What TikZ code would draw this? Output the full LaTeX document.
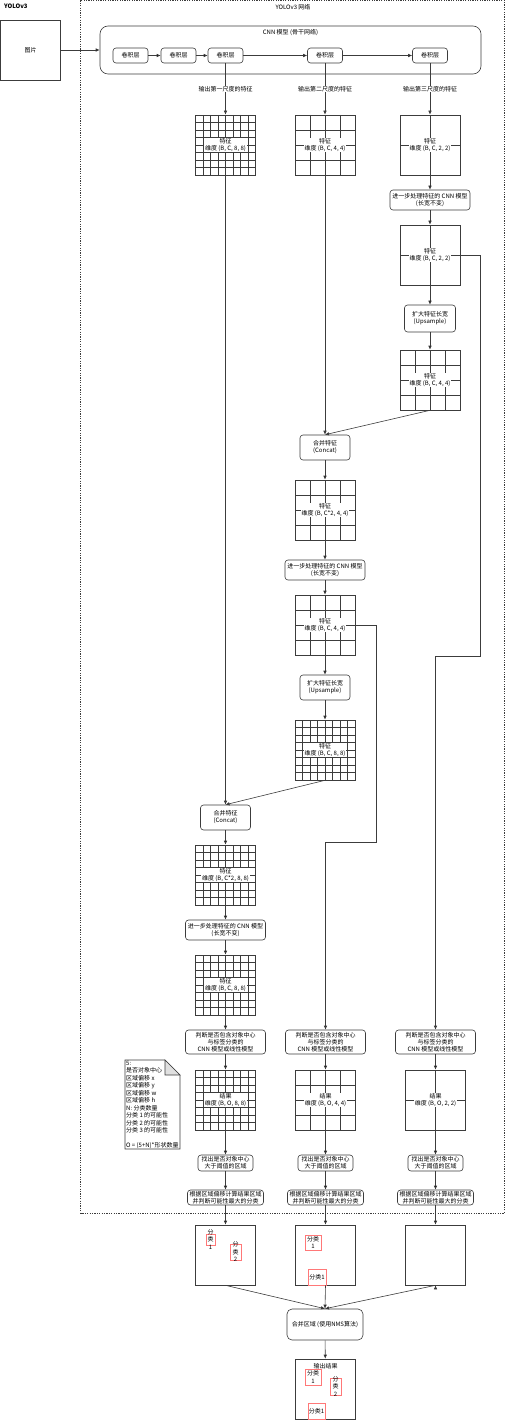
\documentclass[tikz,border=0pt]{standalone}
\usepackage{fontspec}
\setmainfont{Noto Sans CJK SC}
\usetikzlibrary{calc,arrows.meta}
\definecolor{linegray}{RGB}{60,60,60}
\definecolor{boxred}{RGB}{255,120,120}
\newcommand{\feat}[1]{特征\\维度 #1}
\newcommand{\res}[1]{结果\\维度 #1}
\tikzset{
	box/.style={draw=linegray, line width=0.6pt, rounded corners=3pt, fill=white, align=center, inner sep=1pt},
	plain/.style={draw=linegray, line width=0.6pt, minimum size=60pt, inner sep=0pt},
	featgrid/.style={plain, path picture={
		\foreach \k in {1,...,#1}{
			\draw[linegray, line width=0.5pt] ($(path picture bounding box.north west)!\k/#1!(path picture bounding box.north east)$) -- ($(path picture bounding box.south west)!\k/#1!(path picture bounding box.south east)$);
			\draw[linegray, line width=0.5pt] ($(path picture bounding box.north west)!\k/#1!(path picture bounding box.south west)$) -- ($(path picture bounding box.north east)!\k/#1!(path picture bounding box.south east)$);
		}}},
	tag/.style={fill=white, align=center, inner sep=0.6pt},
	redbox/.style={draw=boxred, line width=0.8pt, inner sep=0pt},
	redtext/.style={align=center, inner sep=0pt, font=\fontsize{6}{7.5}\selectfont},
	flow/.style={-{Latex[length=4pt,width=3.5pt]}, draw=linegray, line width=0.6pt},
	frame/.style={draw=linegray, line width=0.5pt, dash pattern=on 1.2pt off 1.2pt},
}
\begin{document}
\begin{tikzpicture}[x=1pt,y=-1pt,font=\fontsize{6}{7}\selectfont]
	\useasboundingbox (0,0) rectangle (506,1420);
	\node[anchor=west, font=\bfseries\fontsize{6}{7}\selectfont] (title) at (0.5,6) {YOLOv3};
	\node[plain] (img) at (30.5,50) {图片};
	\draw[frame] (80.5,0.5) rectangle (504.5,1213);
	\node (nettitle) at (293,7) {YOLOv3 网络};
	
	\node[box, rounded corners=8pt, minimum width=381pt, minimum height=48pt] (cnn) at (290.5,50) {};
	\node (cnntitle) at (290.5,33) {CNN 模型 (骨干网络)};
	\node[box, minimum width=35pt, minimum height=15pt] (c1) at (130.5,55.5) {卷积层};
	\node[box, minimum width=35pt, minimum height=15pt] (c2) at (178.5,55.5) {卷积层};
	\node[box, minimum width=35pt, minimum height=15pt] (c3) at (225.5,55.5) {卷积层};
	\node[box, minimum width=35pt, minimum height=15pt] (c4) at (325,55.5) {卷积层};
	\node[box, minimum width=35pt, minimum height=15pt] (c5) at (430,55.5) {卷积层};
	\path[flow] (img)edge(cnn)(c1)edge(c2)(c2)edge(c3)(c3)edge(c4)(c4)edge(c5);
	
	\node[featgrid=8] (g1) at (225.5,145) {};
	\node[tag] (g1t) at (g1) {\feat{(B, C, 8, 8)}};
	\node[featgrid=4] (g2) at (325,145) {};
	\node[tag] (g2t) at (g2) {\feat{(B, C, 4, 4)}};
	\node[featgrid=2] (g3) at (430,145) {};
	\node[tag] (g3t) at (g3) {\feat{(B, C, 2, 2)}};
	\draw[flow] (c3) -- node[tag]{输出第一尺度的特征} (g1);
	\draw[flow] (c4) -- node[tag]{输出第二尺度的特征} (g2);
	\draw[flow] (c5) -- node[tag]{输出第三尺度的特征} (g3);
	
	\node[box, minimum width=80pt, minimum height=20pt] (p3) at (430,200) {进一步处理特征的 CNN 模型\\(长宽不变)};
	\node[featgrid=2] (g3b) at (430,255) {};
	\node[tag] (g3bt) at (g3b) {\feat{(B, C, 2, 2)}};
	\node[box, minimum width=51pt, minimum height=27pt] (up3) at (430,318.5) {扩大特征长宽\\(Upsample)};
	\node[featgrid=4] (g4) at (430,380) {};
	\node[tag] (g4t) at (g4) {\feat{(B, C, 4, 4)}};
	\path[flow] (g3)edge(p3)(p3)edge(g3b)(g3b)edge(up3)(up3)edge(g4);
	
	\node[box, minimum width=50pt, minimum height=25pt] (cat1) at (325,447.5) {合并特征\\(Concat)};
	\node[featgrid=4] (g5) at (325,510) {};
	\node[tag] (g5t) at (g5) {\feat{(B, C*2, 4, 4)}};
	\node[box, minimum width=80pt, minimum height=20pt] (p2) at (325,570) {进一步处理特征的 CNN 模型\\(长宽不变)};
	\node[featgrid=4] (g6) at (325,625) {};
	\node[tag] (g6t) at (g6) {\feat{(B, C, 4, 4)}};
	\node[box, minimum width=50pt, minimum height=25pt] (up2) at (325,687.5) {扩大特征长宽\\(Upsample)};
	\node[featgrid=8] (g7) at (325,750) {};
	\node[tag] (g7t) at (g7) {\feat{(B, C, 8, 8)}};
	\draw[flow] (g4.south) -- (cat1.north);
	\draw[flow] (g2.south) -- (cat1.north);
	\path[flow] (cat1)edge(g5)(g5)edge(p2)(p2)edge(g6)(g6)edge(up2)(up2)edge(g7);
	
	\node[box, minimum width=50pt, minimum height=25pt] (cat2) at (225.5,817.5) {合并特征\\(Concat)};
	\node[featgrid=8] (g8) at (225.5,875) {};
	\node[tag] (g8t) at (g8) {\feat{(B, C*2, 8, 8)}};
	\node[box, minimum width=80pt, minimum height=20pt] (p1) at (225.5,930) {进一步处理特征的 CNN 模型\\(长宽不变)};
	\node[featgrid=8] (g9) at (225.5,985) {};
	\node[tag] (g9t) at (g9) {\feat{(B, C, 8, 8)}};
	\draw[flow] (g7.south) -- (cat2.north);
	\draw[flow] (g1.south) -- (cat2.north);
	\path[flow] (cat2)edge(g8)(g8)edge(p1)(p1)edge(g9);
	
	\node[box, minimum width=80pt, minimum height=24pt] (d1) at (225.5,1042) {判断是否包含对象中心\\与标签分类的\\CNN 模型或线性模型};
	\node[box, minimum width=80pt, minimum height=24pt] (d2) at (325.5,1042) {判断是否包含对象中心\\与标签分类的\\CNN 模型或线性模型};
	\node[box, minimum width=80pt, minimum height=24pt] (d3) at (435.5,1042) {判断是否包含对象中心\\与标签分类的\\CNN 模型或线性模型};
	\coordinate (k2) at (376,842);
	\coordinate (k3) at (480,656);
	\draw[flow] (g6.east) -| (k2) -| (d2.north);
	\draw[flow] (g3b.east) -| (k3) -| (d3.north);
	\path[flow] (g9)edge(d1);
	
	\node[featgrid=8] (r1) at (225.5,1100) {};
	\node[tag] (r1t) at (r1) {\res{(B, O, 8, 8)}};
	\node[featgrid=4] (r2) at (325.5,1100) {};
	\node[tag] (r2t) at (r2) {\res{(B, O, 4, 4)}};
	\node[featgrid=2] (r3) at (435.5,1100) {};
	\node[tag] (r3t) at (r3) {\res{(B, O, 2, 2)}};
	
	\node[box, minimum width=55pt, minimum height=16pt] (t1) at (225.5,1163) {找出是否对象中心\\大于阈值的区域};
	\node[box, minimum width=55pt, minimum height=16pt] (t2) at (325.5,1163) {找出是否对象中心\\大于阈值的区域};
	\node[box, minimum width=55pt, minimum height=16pt] (t3) at (435.5,1163) {找出是否对象中心\\大于阈值的区域};
	\node[box, minimum width=76pt, minimum height=15pt] (e1) at (225.5,1197.5) {根据区域偏移计算结果区域\\并判断可能性最大的分类};
	\node[box, minimum width=76pt, minimum height=15pt] (e2) at (325.5,1197.5) {根据区域偏移计算结果区域\\并判断可能性最大的分类};
	\node[box, minimum width=76pt, minimum height=15pt] (e3) at (435.5,1197.5) {根据区域偏移计算结果区域\\并判断可能性最大的分类};
	\path[flow] (d1)edge(r1)(r1)edge(t1)(t1)edge(e1);
	\path[flow] (d2)edge(r2)(r2)edge(t2)(t2)edge(e2);
	\path[flow] (d3)edge(r3)(r3)edge(t3)(t3)edge(e3);
	
	\node[align=left, anchor=north west, inner sep=0pt, font=\fontsize{6}{7.5}\selectfont] (note) at (126,1061) {5:\\是否对象中心\\区域偏移 x\\区域偏移 y\\区域偏移 w\\区域偏移 h\\N: 分类数量\\分类 1 的可能性\\分类 2 的可能性\\分类 3 的可能性\\[7.5pt]O = (5+N)*形状数量};
	\draw[linegray, line width=0.6pt] (125,1060) -- (165,1060) -- (180,1075) -- (180,1149) -- (125,1149) -- cycle;
	\draw[linegray, line width=0.6pt, fill=black!12] (165,1060) -- (165,1075) -- (180,1075) -- cycle;
	
	\node[plain] (o1) at (225.5,1255) {};
	\node[plain] (o2) at (325.5,1255) {};
	\node[plain] (o3) at (435.5,1255) {};
	\path[flow] (e1)edge(o1)(e2)edge(o2)(e3)edge(o3);
	\node[redbox, minimum width=9pt, minimum height=11pt] (o1a) at (210.5,1239.5) {};
	\node[redtext] (o1at) at (o1a) {分\\类\\1};
	\node[redbox, minimum width=11pt, minimum height=16pt] (o1b) at (235.5,1252) {};
	\node[redtext] (o1bt) at (o1b) {分\\类\\2};
	\node[redbox, minimum width=16pt, minimum height=15pt] (o2a) at (313,1242.5) {};
	\node[redtext] (o2at) at (o2a) {分类\\1};
	\node[redbox, minimum width=18pt, minimum height=16pt] (o2b) at (317,1277) {};
	\node[redtext] (o2bt) at (o2b) {分类1};
	
	\node[box, rounded corners=5pt, minimum width=76pt, minimum height=31pt] (nms) at (325,1324.5) {合并区域 (使用NMS算法)};
	\node[plain] (out) at (325.5,1389) {};
	\node (outt) at (325.5,1366) {输出结果};
	\path[flow] (o1.south)edge(nms.north)(o2.south)edge(nms.north)(o3.south)edge(nms.north)(nms)edge(out);
	\node[redbox, minimum width=16pt, minimum height=16pt] (fa) at (313,1377) {};
	\node[redtext] (fat) at (fa) {分类\\1};
	\node[redbox, minimum width=11pt, minimum height=17pt] (fb) at (335.5,1386.5) {};
	\node[redtext] (fbt) at (fb) {分\\类\\2};
	\node[redbox, minimum width=17pt, minimum height=16pt] (fc) at (316.5,1411) {};
	\node[redtext] (fct) at (fc) {分类1};
\end{tikzpicture}
\end{document}
